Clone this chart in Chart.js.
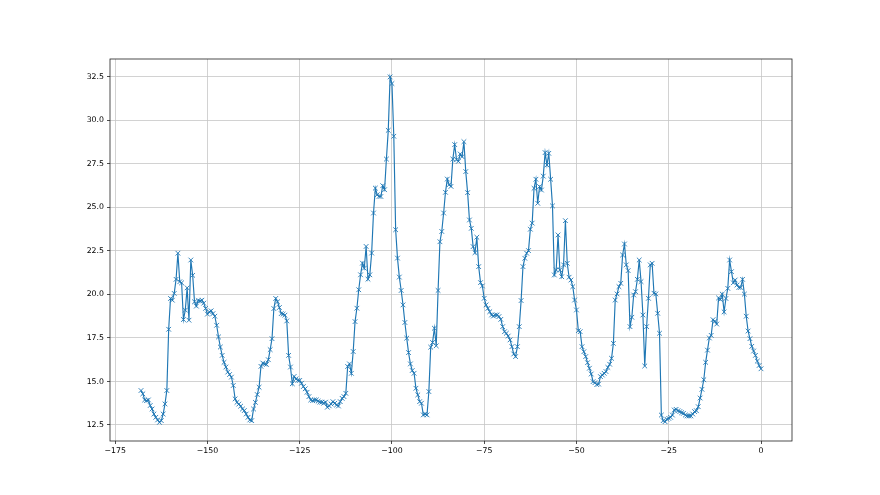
<!DOCTYPE html>
<html>
<head>
<meta charset="utf-8">
<script src="https://cdn.jsdelivr.net/npm/chart.js@4.4.1/dist/chart.umd.min.js"></script>
<style>
  html, body { margin: 0; padding: 0; background: #fff; }
  #wrap { width: 880px; height: 495px; }
</style>
</head>
<body>
<div id="wrap"><canvas id="grafico" width="880" height="495"></canvas></div>
<script>
// DATI (un punto ogni 0.5 da -168 a 0)
const X_START = -168;
const X_STEP = 0.5;
const valori = [
  14.48, 14.29, 13.94, 13.90, 13.94, 13.62, 13.42, 13.13, 12.94, 12.79,
  12.65, 12.75, 13.13, 13.71, 14.48, 18.00, 19.77, 19.67, 20.06, 20.87,
  22.37, 20.73, 20.67, 18.56, 19.10, 20.38, 18.52, 21.98, 21.10, 19.58,
  19.33, 19.65, 19.62, 19.67, 19.50, 19.20, 18.87, 19.00, 19.06, 18.90,
  18.75, 18.23, 17.56, 16.98, 16.50, 16.10, 15.83, 15.54, 15.40, 15.25,
  14.77, 14.00, 13.80, 13.70, 13.58, 13.42, 13.33, 13.13, 12.94, 12.79,
  12.75, 13.42, 13.80, 14.25, 14.67, 15.87, 16.06, 16.00, 15.98, 16.25,
  16.83, 17.46, 19.19, 19.77, 19.58, 19.25, 18.90, 18.87, 18.81, 18.48,
  16.50, 15.83, 14.87, 15.29, 15.15, 15.06, 15.06, 14.90, 14.71, 14.58,
  14.38, 14.13, 13.94, 13.90, 13.94, 13.94, 13.87, 13.81, 13.81, 13.75,
  13.81, 13.52, 13.60, 13.71, 13.84, 13.75, 13.65, 13.59, 13.84, 14.03,
  14.13, 14.32, 15.86, 16.01, 15.47, 16.72, 18.44, 19.21, 20.27, 21.13,
  21.80, 21.51, 22.76, 20.88, 21.13, 22.38, 24.68, 26.11, 25.73, 25.63,
  25.63, 26.25, 26.02, 27.78, 29.43, 32.50, 32.12, 29.09, 23.72, 22.09,
  21.00, 20.23, 19.40, 18.39, 17.49, 16.66, 16.01, 15.63, 15.47, 14.61,
  14.23, 13.84, 13.75, 13.08, 13.13, 13.08, 14.42, 16.97, 17.24, 18.06,
  17.05, 20.23, 23.03, 23.62, 24.68, 25.87, 26.63, 26.31, 26.21, 27.78,
  28.61, 27.74, 27.65, 28.07, 27.92, 28.78, 27.06, 25.85, 24.28, 23.80,
  22.75, 22.40, 23.29, 21.60, 20.68, 20.49, 19.78, 19.40, 19.20, 19.01,
  18.82, 18.76, 18.82, 18.82, 18.73, 18.57, 18.15, 17.86, 17.77, 17.61,
  17.39, 17.00, 16.58, 16.43, 17.00, 18.15, 19.65, 21.60, 22.08, 22.37,
  22.52, 23.75, 24.10, 26.10, 26.62, 25.24, 26.20, 26.00, 26.80, 28.15,
  27.44, 28.11, 26.62, 25.09, 21.12, 21.41, 23.42, 21.41, 21.02, 21.70,
  24.24, 21.79, 20.99, 20.83, 20.45, 19.68, 19.11, 17.92, 17.86, 17.00,
  16.71, 16.43, 16.08, 15.76, 15.43, 14.99, 14.93, 14.82, 14.85, 15.28,
  15.37, 15.47, 15.57, 15.81, 15.99, 16.33, 17.19, 19.68, 20.03, 20.45,
  20.64, 22.27, 22.90, 21.70, 21.37, 18.15, 18.69, 19.97, 20.16, 20.87,
  21.98, 20.74, 18.82, 15.89, 18.15, 19.78, 21.70, 21.79, 20.07, 20.03,
  18.92, 17.77, 13.07, 12.75, 12.69, 12.83, 12.88, 12.94, 13.07, 13.36,
  13.40, 13.32, 13.27, 13.21, 13.17, 13.07, 13.02, 13.02, 13.02, 13.13,
  13.27, 13.32, 13.55, 14.05, 14.55, 15.10, 16.10, 16.80, 17.50, 17.65,
  18.55, 18.45, 18.30, 19.80, 19.71, 20.02, 19.00, 19.77, 20.35, 21.98,
  21.31, 20.67, 20.83, 20.54, 20.40, 20.40, 20.87, 20.02, 18.75, 17.90,
  17.46, 17.02, 16.75, 16.50, 16.17, 15.92, 15.73
];

const tickX = [-175, -150, -125, -100, -75, -50, -25, 0];
const tickY = [12.5, 15, 17.5, 20, 22.5, 25, 27.5, 30, 32.5];

const punti = valori.map((v, i) => ({ x: X_START + i * X_STEP, y: v }));

// stile tipo matplotlib
const fontTick = { family: "'DejaVu Sans', sans-serif", size: 7.8 };
const grigliaCol = '#c6c6c6';

function etichettaX(v) {
    return v < 0 ? '\u2212' + Math.abs(v) : String(v);
}

// cornice su tutti e quattro i lati
const cornice = {
    id: 'cornice',
    afterDraw(chart) {
        const { ctx, chartArea: a } = chart;
        ctx.save();
        ctx.strokeStyle = '#222';
        ctx.lineWidth = 0.8;
        ctx.strokeRect(a.left, a.top, a.right - a.left, a.bottom - a.top);
        ctx.restore();
    }
};

const ctx = document.getElementById('grafico').getContext('2d');
new Chart(ctx, {
    type: 'line',
    data: {
        datasets: [{
            data: punti,
            borderColor: '#1f77b4',
            borderWidth: 1.15,
            pointStyle: 'crossRot',
            pointRadius: 3.3,
            pointBorderWidth: 0.9,
            pointBorderColor: '#1f77b4',
            pointBackgroundColor: '#1f77b4',
            tension: 0,
            fill: false
        }]
    },
    options: {
        responsive: false,
        animation: false,
        devicePixelRatio: 1,
        layout: { padding: { left: 0, right: 88, top: 59, bottom: 0 } },
        plugins: { legend: { display: false }, tooltip: { enabled: false } },
        scales: {
            x: {
                type: 'linear',
                min: -176.4,
                max: 8.4,
                afterBuildTicks: ax => { ax.ticks = tickX.map(v => ({ value: v })); },
                afterFit: s => { s.height = 54; },
                ticks: {
                    callback: v => etichettaX(v),
                    font: fontTick,
                    color: '#000',
                    padding: 2,
                    maxRotation: 0,
                    autoSkip: false
                },
                grid: { color: grigliaCol, lineWidth: 0.8, tickColor: '#222', tickLength: 3 },
                border: { display: false }
            },
            y: {
                type: 'linear',
                min: 11.58,
                max: 33.53,
                afterBuildTicks: ax => { ax.ticks = tickY.map(v => ({ value: v })); },
                afterFit: s => { s.width = 110; },
                ticks: {
                    callback: v => v.toFixed(1),
                    font: fontTick,
                    color: '#000',
                    padding: 3,
                    autoSkip: false
                },
                grid: { color: grigliaCol, lineWidth: 0.8, tickColor: '#222', tickLength: 3 },
                border: { display: false }
            }
        }
    },
    plugins: [cornice]
});
</script>
</body>
</html>
